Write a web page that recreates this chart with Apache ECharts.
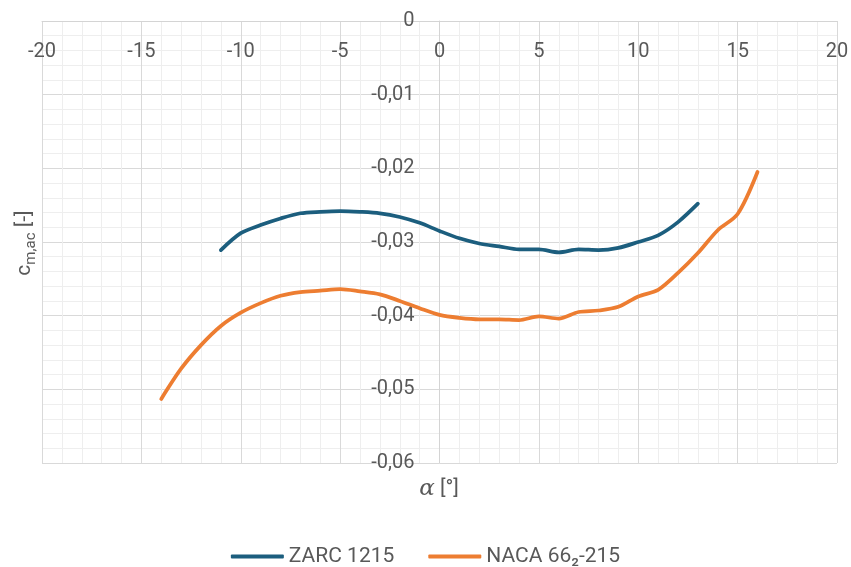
<!DOCTYPE html>
<html>
<head>
<meta charset="utf-8">
<script src="https://cdn.jsdelivr.net/npm/echarts@6/dist/echarts.min.js"></script>
<style>
  html, body { margin: 0; padding: 0; background: #fff; }
  #chart { width: 851px; height: 567px; }
</style>
</head>
<body>
<div id="chart"></div>
<script>
// Angle of attack [deg] for each airfoil
const alphaZarc = [-11, -10, -9, -8, -7, -6, -5, -4, -3, -2, -1, 0, 1, 2, 3, 4, 5, 6, 7, 8, 9, 10, 11, 12, 13];
const cmZarc = [-0.0311, -0.0288, -0.0277, -0.0268, -0.0261, -0.0259, -0.0258, -0.0259, -0.0261, -0.0266,
  -0.0274, -0.0285, -0.0295, -0.0302, -0.0306, -0.0310, -0.0310, -0.0314, -0.0310, -0.0311,
  -0.0308, -0.0300, -0.0291, -0.0273, -0.0248];

const alphaNaca = [-14, -13, -12, -11, -10, -9, -8, -7, -6, -5, -4, -3, -2, -1, 0, 1, 2, 3, 4, 5, 6, 7, 8, 9, 10, 11, 12, 13, 14, 15, 16];
const cmNaca = [-0.0513, -0.0472, -0.0440, -0.0414, -0.0396, -0.0383, -0.0373, -0.0368, -0.0366, -0.0364,
  -0.0367, -0.0371, -0.0380, -0.0390, -0.0399, -0.0403, -0.0405, -0.0405, -0.0406, -0.0401,
  -0.0404, -0.0395, -0.0393, -0.0388, -0.0374, -0.0365, -0.0342, -0.0315, -0.0284, -0.0262, -0.0205];

const seriesNames = ['ZARC 1215', 'NACA 66\u2082-215'];
const seriesColors = ['#1c5e7e', '#ed7d31'];

const pairs = (xs, ys) => xs.map((x, i) => [x, ys[i]]);

const textColor = '#595959';
const fontFamily = 'Roboto, "Noto Sans", sans-serif';

// plot rectangle
const gridLeft = 42, gridRight = 14, gridTop = 21, gridBottom = 104;
const plotWidth = 851 - gridLeft - gridRight;
// the value axis crosses the horizontal axis at alpha = 0 (middle of -20..20)
const yAxisShift = plotWidth / 2;

const chart = echarts.init(document.getElementById('chart'));
chart.setOption({
  animation: false,
  textStyle: { fontFamily: fontFamily, color: textColor },
  grid: { left: gridLeft, top: gridTop, right: gridRight, bottom: gridBottom, containLabel: false, outerBoundsMode: 'none' },
  xAxis: {
    type: 'value',
    position: 'top',
    min: -20, max: 20, interval: 5,
    axisLine: { show: true, onZero: false, lineStyle: { color: '#d4d4d4', width: 1 } },
    axisTick: { show: false },
    axisLabel: { inside: true, color: textColor, fontSize: 20, margin: 21, showMinLabel: true, showMaxLabel: true },
    splitLine: { show: true, lineStyle: { color: '#d9d9d9', width: 1 } },
    minorTick: { show: false, splitNumber: 5 },
    minorSplitLine: { show: true, lineStyle: { color: '#eeeeee', width: 1 } }
  },
  yAxis: {
    type: 'value',
    position: 'left',
    offset: -yAxisShift,
    min: -0.06, max: 0, interval: 0.01,
    axisLine: { show: true, onZero: false, lineStyle: { color: '#d4d4d4', width: 1 } },
    axisTick: { show: false },
    axisLabel: {
      color: textColor, fontSize: 20, margin: 25, showMinLabel: true, showMaxLabel: true,
      formatter: v => (Math.abs(v) < 1e-9 ? '0' : v.toFixed(2).replace('.', ','))
    },
    splitLine: { show: true, lineStyle: { color: '#d9d9d9', width: 1 } },
    minorTick: { show: false, splitNumber: 5 },
    minorSplitLine: { show: true, lineStyle: { color: '#eeeeee', width: 1 } }
  },
  legend: {
    top: 541,
    left: 'center',
    icon: 'roundRect',
    itemWidth: 53,
    itemHeight: 4,
    itemGap: 34,
    textStyle: { color: textColor, fontSize: 21, fontFamily: fontFamily },
    data: seriesNames
  },
  graphic: [
    {
      type: 'text',
      x: 25, y: 243,
      rotation: Math.PI / 2,
      style: {
        text: '{c|c}{s|m,ac}{c| [-]}',
        align: 'center', verticalAlign: 'middle',
        fill: textColor,
        rich: {
          c: { fontSize: 21, lineHeight: 28, verticalAlign: 'middle', fill: textColor, fontFamily: fontFamily },
          s: { fontSize: 15, lineHeight: 15, verticalAlign: 'bottom', fill: textColor, fontFamily: fontFamily }
        }
      }
    },
    {
      type: 'text',
      x: 439, y: 489,
      style: {
        text: '{i|\u03b1}{n| [°]}',
        align: 'center', verticalAlign: 'middle',
        fill: textColor,
        rich: {
          i: { fontSize: 23, fontStyle: 'italic', fontFamily: '"DejaVu Serif", serif', fill: textColor },
          n: { fontSize: 21, fontFamily: fontFamily, fill: textColor }
        }
      }
    }
  ],
  series: [
    {
      name: seriesNames[0],
      type: 'line',
      data: pairs(alphaZarc, cmZarc),
      smooth: 0.3,
      symbol: 'none',
      lineStyle: { color: seriesColors[0], width: 3.75, cap: 'round', join: 'round' },
      itemStyle: { color: seriesColors[0] }
    },
    {
      name: seriesNames[1],
      type: 'line',
      data: pairs(alphaNaca, cmNaca),
      smooth: 0.3,
      symbol: 'none',
      lineStyle: { color: seriesColors[1], width: 3.75, cap: 'round', join: 'round' },
      itemStyle: { color: seriesColors[1] }
    }
  ]
});
</script>
</body>
</html>
